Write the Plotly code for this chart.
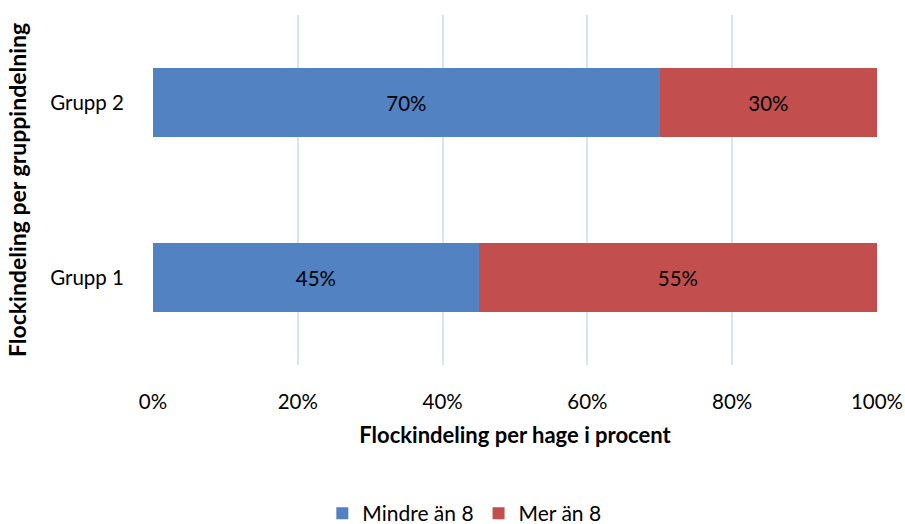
import plotly.graph_objects as go

# Share of flocks per garden, split by group
groups = ["Grupp 1", "Grupp 2"]
mindre_an_8 = [45, 70]
mer_an_8 = [55, 30]
x_ticks = [0, 20, 40, 60, 80, 100]
x_tick_labels = ["0%", "20%", "40%", "60%", "80%", "100%"]

font_family = "Lato, 'Open Sans', sans-serif"
label_size = 20.5
title_size = 22

fig = go.Figure()
fig.add_trace(go.Bar(
    y=groups, x=mindre_an_8, orientation="h", name="Mindre än 8",
    marker=dict(color="#5282c2", line=dict(width=0)),
    text=[f"{v}%" for v in mindre_an_8], textposition="inside",
    insidetextanchor="middle", textfont=dict(color="#000000", size=label_size),
    hoverinfo="skip",
))
fig.add_trace(go.Bar(
    y=groups, x=mer_an_8, orientation="h", name="Mer än 8",
    marker=dict(color="#c24f4d", line=dict(width=0)),
    text=[f"{v}%" for v in mer_an_8], textposition="inside",
    insidetextanchor="middle", textfont=dict(color="#000000", size=label_size),
    hoverinfo="skip",
))

fig.update_layout(
    barmode="stack",
    bargap=0.605,
    width=905, height=524,
    margin=dict(l=153, r=28, t=15, b=159, autoexpand=False),
    paper_bgcolor="white", plot_bgcolor="white",
    font=dict(family=font_family, size=label_size, color="#000000"),
    uniformtext=dict(mode="show", minsize=label_size),
    legend=dict(
        orientation="h", x=0.43, xanchor="center",
        yref="container", y=0.02, yanchor="middle",
        font=dict(size=21), itemwidth=30, traceorder="normal",
    ),
    xaxis=dict(
        range=[0, 100], tickvals=x_ticks, ticktext=x_tick_labels,
        showgrid=True, gridcolor="#d9e4f3", gridwidth=2,
        zeroline=False, showline=False, ticks="",
        ticklabelstandoff=22, automargin=False,
        title=dict(text="<b>Flockindeling per hage i procent</b>",
                   font=dict(size=title_size), standoff=16),
        fixedrange=True,
    ),
    yaxis=dict(
        categoryorder="array", categoryarray=groups,
        showgrid=False, zeroline=False, showline=False, ticks="",
        ticklabelstandoff=28, automargin=False,
        title=dict(text="<b>Flockindeling per gruppindelning</b>",
                   font=dict(size=23), standoff=17),
        fixedrange=True,
    ),
)

fig.write_html("out.html")
